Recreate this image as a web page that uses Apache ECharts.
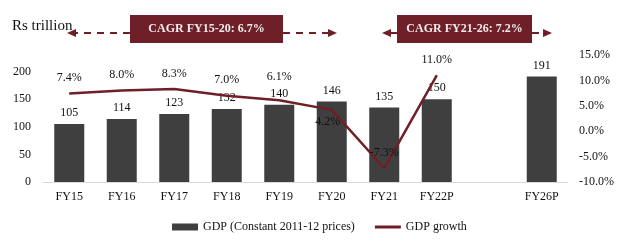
<!DOCTYPE html>
<html>
<head>
<meta charset="utf-8">
<script src="https://cdn.jsdelivr.net/npm/echarts@6/dist/echarts.min.js"></script>
<style>
  html, body { margin: 0; padding: 0; background: #fff; }
  #mybox { width: 640px; height: 245px; }
</style>
</head>
<body>
<div id="mybox"></div>
<script>
// 数据
var categories = ['FY15', 'FY16', 'FY17', 'FY18', 'FY19', 'FY20', 'FY21', 'FY22P', '', 'FY26P'];
var gdpValues = [105, 114, 123, 132, 140, 146, 135, 150, null, 191];
var growthValues = [7.4, 8.0, 8.3, 7.0, 6.1, 4.2, -7.3, 11.0, null, null];
var leftTicks = [0, 50, 100, 150, 200];
var rightTicks = [-10, -5, 0, 5, 10, 15];

var FONT = 'Liberation Serif';
var MAROON = '#6e1f27';
var BAR = '#3f3f3f';

// 初始化echarts对象
var mycharts = echarts.init(document.getElementById('mybox'));

// 虚线箭头
function arrow(x1, x2, y) {
    var dir = x2 > x1 ? 1 : -1;
    return [
        {
            type: 'polyline',
            shape: { points: [[x1, y], [x2 - dir * 6, y]] },
            style: { stroke: MAROON, lineWidth: 2, lineDash: [7, 6], fill: null }
        },
        {
            type: 'polygon',
            shape: { points: [[x2, y], [x2 - dir * 9, y - 4], [x2 - dir * 9, y + 4]] },
            style: { fill: MAROON }
        }
    ];
}

function cagrBox(x, w, text) {
    return [
        { type: 'rect', shape: { x: x, y: 15, width: w, height: 28 }, style: { fill: MAROON } },
        {
            type: 'text', x: x + w / 2, y: 29,
            style: { text: text, fill: '#f3ecec', font: 'bold 12px "' + FONT + '"', align: 'center', verticalAlign: 'middle' }
        }
    ];
}

var graphics = [].concat(
    arrow(130, 67, 33), arrow(283, 337, 33), cagrBox(130, 153, 'CAGR FY15-20: 6.7%'),
    arrow(397, 382, 33), arrow(532, 552, 33), cagrBox(397, 135, 'CAGR FY21-26: 7.2%'),
    [{
        type: 'text', x: 12, y: 26,
        style: { text: 'Rs trillion', fill: '#111', font: '15px "' + FONT + '"', verticalAlign: 'middle' }
    }]
);

var lineData = growthValues.map(function (v, i) {
    var item = { value: v };
    if (i === 4) item.label = { distance: 17 };
    if (i === 5) item.label = { position: 'bottom', distance: 5, offset: [-4, 0] };
    return item;
});

var option = {
    animation: false,
    textStyle: { fontFamily: FONT },
    grid: { left: 43, right: 72, top: 55, bottom: 63 },
    legend: {
        left: 167, top: 216,
        itemWidth: 26, itemHeight: 7, itemGap: 20,
        textStyle: { fontFamily: FONT, fontSize: 12, color: '#111' },
        data: [
            { name: 'GDP (Constant 2011-12 prices)', icon: 'rect' },
            { name: 'GDP growth', icon: 'path://M0,0 L26,0 L26,3 L0,3 Z' }
        ]
    },
    xAxis: {
        type: 'category',
        data: categories,
        axisLine: { lineStyle: { color: '#d9d9d9', width: 1 } },
        axisTick: { show: false },
        axisLabel: { color: '#111', fontFamily: FONT, fontSize: 12, margin: 9, interval: 0 }
    },
    yAxis: [
        {
            type: 'value', min: 0, max: 230, interval: 50,
            splitLine: { show: false },
            axisLine: { show: false },
            axisLabel: {
                color: '#111', fontFamily: FONT, fontSize: 12, margin: 12, showMaxLabel: false,
                formatter: function (v) { return leftTicks.indexOf(v) >= 0 ? v : ''; }
            }
        },
        {
            type: 'value', min: -10, max: 15, interval: 5,
            splitLine: { show: false },
            axisLine: { show: false },
            axisLabel: {
                color: '#111', fontFamily: FONT, fontSize: 12, margin: 11,
                formatter: function (v) { return rightTicks.indexOf(v) >= 0 ? v.toFixed(1) + '%' : ''; }
            }
        }
    ],
    series: [
        {
            name: 'GDP (Constant 2011-12 prices)',
            type: 'bar',
            data: gdpValues,
            barWidth: 30,
            itemStyle: { color: BAR },
            label: { show: true, position: 'top', distance: 5, color: '#111', fontFamily: FONT, fontSize: 12 }
        },
        {
            name: 'GDP growth',
            type: 'line',
            yAxisIndex: 1,
            data: lineData,
            symbol: 'circle',
            symbolSize: 1,
            showSymbol: true,
            lineStyle: { color: MAROON, width: 2.5 },
            itemStyle: { color: MAROON },
            label: {
                show: true, position: 'top', distance: 9, color: '#111', fontFamily: FONT, fontSize: 12,
                formatter: function (p) { return p.value == null ? '' : p.value.toFixed(1) + '%'; }
            }
        }
    ],
    graphic: graphics
};

// 为echarts对象加载数据
mycharts.setOption(option);
</script>
</body>
</html>
